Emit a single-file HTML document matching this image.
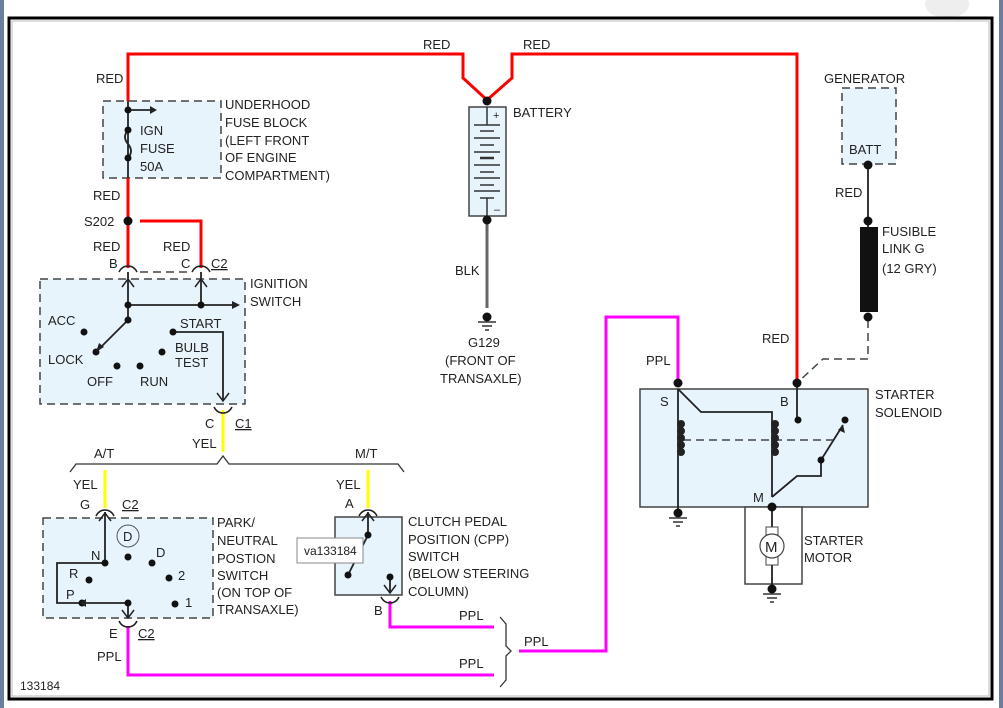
<!DOCTYPE html>
<html><head><meta charset="utf-8"><style>
html,body{margin:0;padding:0;background:#fff;width:1003px;height:708px;overflow:hidden}
svg text{font-family:"Liberation Sans",sans-serif;font-size:13px;fill:#222}
</style></head><body>
<svg width="1003" height="708" viewBox="0 0 1003 708" xmlns="http://www.w3.org/2000/svg">
<rect x="0" y="0" width="4" height="708" fill="#6a7f9a"/>
<rect x="999" y="0" width="4" height="708" fill="#6a7f9a"/>
<ellipse cx="947" cy="4" rx="22" ry="14" fill="#eee"/>
<rect x="9" y="18" width="983" height="681" fill="#fff" stroke="#000" stroke-width="3"/>
<rect x="12" y="21" width="977" height="675" fill="none" stroke="#bbb" stroke-width="1"/>

<g fill="#e8f4fc" stroke="#444" stroke-width="1.5" stroke-dasharray="8,5">
<rect x="103" y="101" width="118" height="77"/>
<rect x="40" y="279" width="205" height="125"/>
<rect x="43" y="518" width="170" height="100"/>
<rect x="842" y="88" width="54" height="76"/>
</g>
<g fill="#e8f4fc" stroke="#444" stroke-width="1.5">
<rect x="335" y="517" width="67" height="78"/>
<rect x="640" y="389" width="228" height="118"/>
<rect x="469" y="107" width="37" height="109"/>
</g>
<rect x="745" y="507" width="57" height="77" fill="#fff" stroke="#444" stroke-width="1.5"/>

<g fill="none" stroke="#f00" stroke-width="3">
<polyline points="128,101 128,54 463,54 463,78 487,100 512,78 512,54 797,54 797,383"/>
<line x1="128" y1="178" x2="128" y2="268"/>
<polyline points="140,221 201,221 201,268"/>
</g>
<g stroke="#ff0" stroke-width="3">
<line x1="223" y1="410" x2="223" y2="452"/>
<line x1="105" y1="470" x2="105" y2="508"/>
<line x1="368" y1="470" x2="368" y2="508"/>
</g>
<g fill="none" stroke="#f0f" stroke-width="3">
<polyline points="128,626 128,675 494,675"/>
<polyline points="390,601 390,627 494,627"/>
<polyline points="519,651 606,651 606,317 678,317 678,383"/>
</g>
<g fill="none" stroke="#222" stroke-width="1.8">
<line x1="128" y1="101" x2="128" y2="178"/>
<line x1="128" y1="110" x2="150" y2="110"/>
<line x1="128" y1="272" x2="128" y2="320"/>
<line x1="128" y1="305" x2="232" y2="305"/>
<line x1="201" y1="272" x2="201" y2="305"/>
<line x1="128" y1="320" x2="98" y2="350"/>
<polyline points="173,332 223,332 223,400"/>
<line x1="105" y1="512" x2="105" y2="563"/>
<polyline points="105,563 57,563 57,603 82,603"/>
<line x1="128" y1="603" x2="86" y2="603"/>
<line x1="128" y1="603" x2="128" y2="618"/>
<polyline points="368,512 368,535 348,575"/>
<line x1="390" y1="577" x2="390" y2="592"/>
<line x1="868" y1="165" x2="868" y2="228"/>
<line x1="678" y1="389" x2="678" y2="515"/>
<polyline points="678,389 701,412 772,412 772,497"/>
<line x1="797" y1="383" x2="797" y2="420"/>
<polyline points="772,497 797,476 821,476 821,460 843,425"/>
<line x1="772" y1="507" x2="772" y2="590"/>
<path d="M128,130 q-6,7 0,14 q6,7 0,14" />
</g>
<line x1="487" y1="216" x2="487" y2="308" stroke="#666" stroke-width="3"/>
<g stroke="#333" stroke-width="1.5">
<line x1="487" y1="107" x2="487" y2="125"/>
<line x1="474" y1="125" x2="500" y2="125"/><line x1="480" y1="131" x2="494" y2="131"/>
<line x1="474" y1="138" x2="500" y2="138"/><line x1="480" y1="145" x2="494" y2="145"/>
<line x1="474" y1="152" x2="500" y2="152"/><line x1="480" y1="158" x2="494" y2="158" stroke-width="2.5"/>
<line x1="474" y1="165" x2="500" y2="165"/><line x1="480" y1="172" x2="494" y2="172"/>
<line x1="474" y1="178" x2="500" y2="178"/><line x1="480" y1="185" x2="494" y2="185"/>
<line x1="474" y1="191" x2="500" y2="191"/><line x1="480" y1="198" x2="494" y2="198"/>
<line x1="487" y1="198" x2="487" y2="216"/>
</g>
<text x="493" y="119" style="font-size:11px">+</text>
<text x="494" y="213" style="font-size:11px">–</text>
<g fill="none" stroke="#444" stroke-width="1.5" stroke-dasharray="8,5">
<line x1="140" y1="272" x2="190" y2="272"/>
<polyline points="868,320 868,359 823,359 797,383"/>
<line x1="683" y1="440" x2="833" y2="440"/>
</g>
<g fill="#222">
<circle cx="681" cy="424" r="4"/><circle cx="681" cy="431" r="4"/><circle cx="681" cy="438" r="4"/><circle cx="681" cy="445" r="4"/><circle cx="681" cy="452" r="4"/>
<circle cx="775" cy="424" r="4"/><circle cx="775" cy="431" r="4"/><circle cx="775" cy="438" r="4"/><circle cx="775" cy="445" r="4"/><circle cx="775" cy="452" r="4"/>
</g>
<rect x="860" y="227" width="18" height="85" fill="#111"/>
<g fill="#111">
<circle cx="128" cy="110" r="3.5"/><circle cx="128" cy="130" r="3.5"/><circle cx="128" cy="158" r="3.5"/>
<circle cx="128" cy="221" r="4.5"/>
<circle cx="128" cy="305" r="3.5"/><circle cx="201" cy="305" r="3.5"/><circle cx="128" cy="320" r="3.5"/>
<circle cx="84" cy="332" r="3.5"/><circle cx="96" cy="352" r="3.5"/><circle cx="117" cy="366" r="3.5"/>
<circle cx="140" cy="366" r="3.5"/><circle cx="162" cy="352" r="3.5"/><circle cx="173" cy="332" r="3.5"/>
<circle cx="105" cy="563" r="3.5"/><circle cx="128" cy="557" r="3.5"/><circle cx="152" cy="563" r="3.5"/>
<circle cx="89" cy="580" r="3.5"/><circle cx="169" cy="578" r="3.5"/><circle cx="82" cy="603" r="3.5"/>
<circle cx="128" cy="603" r="3.5"/><circle cx="175" cy="604" r="3.5"/>
<circle cx="368" cy="535" r="3.5"/><circle cx="348" cy="575" r="3.5"/><circle cx="390" cy="577" r="3.5"/>
<circle cx="487" cy="101" r="4.5"/><circle cx="487" cy="220" r="4.5"/><circle cx="487" cy="317" r="4.5"/>
<circle cx="868" cy="165" r="4.5"/><circle cx="868" cy="221" r="4.5"/><circle cx="868" cy="317" r="4.5"/>
<circle cx="678" cy="383" r="4.5"/><circle cx="797" cy="383" r="4.5"/>
<circle cx="798" cy="420" r="3.5"/><circle cx="845" cy="420" r="3.5"/><circle cx="821" cy="460" r="3.5"/>
<circle cx="772" cy="507" r="4.5"/><circle cx="678" cy="513" r="4.5"/><circle cx="772" cy="589" r="4.5"/>
</g>
<g fill="#222">
<polygon points="150,106 157,110 150,114"/>
<polygon points="232,301 240,305 232,309"/>
<polygon points="96,352 99,343 104,347"/>
<polygon points="86,599 80,603 86,607" />
<polygon points="843,425 845,433 838,430" />
</g>
<g fill="none" stroke="#222" stroke-width="1.5">
<polyline points="122,287 128,279 134,287"/><polyline points="195,287 201,279 207,287"/>
<polyline points="217,393 223,401 229,393"/>
<polyline points="99,521 105,513 111,521"/><polyline points="122,610 128,618 134,610"/>
<polyline points="362,521 368,513 374,521"/><polyline points="384,585 390,593 396,585"/>
</g>
<g fill="none" stroke="#222" stroke-width="1.5">
<path d="M119,272 q3,-6 9,-6 q6,0 9,6"/><path d="M192,272 q3,-6 9,-6 q6,0 9,6"/>
<path d="M214,407 q3,6 9,6 q6,0 9,-6"/>
<path d="M96,516 q3,-6 9,-6 q6,0 9,6"/><path d="M359,516 q3,-6 9,-6 q6,0 9,6"/>
<path d="M119,621 q3,6 9,6 q6,0 9,-6"/><path d="M381,597 q3,6 9,6 q6,0 9,-6"/>
</g>
<g stroke="#333" stroke-width="1.5">
<line x1="478" y1="322" x2="496" y2="322"/><line x1="482" y1="326" x2="492" y2="326"/><line x1="485" y1="330" x2="489" y2="330"/>
<line x1="669" y1="518" x2="687" y2="518"/><line x1="673" y1="522" x2="683" y2="522"/><line x1="676" y1="526" x2="680" y2="526"/>
<line x1="763" y1="594" x2="781" y2="594"/><line x1="767" y1="598" x2="777" y2="598"/><line x1="770" y1="602" x2="774" y2="602"/>
</g>
<rect x="766" y="527" width="12" height="38" fill="#fff" stroke="#444"/>
<circle cx="772" cy="546" r="12" fill="#fff" stroke="#444" stroke-width="1.2"/>
<text x="765" y="552" style="font-size:15px">M</text>
<circle cx="128" cy="536" r="11" fill="none" stroke="#555"/>
<text x="123" y="541">D</text>
<path d="M70,472 L76,464 L217,464 L223,456 L229,464 L398,464 L404,472" fill="none" stroke="#333" stroke-width="1.3"/>
<path d="M500,617 L506,624 L506,646 L511,651 L506,656 L506,680 L500,687" fill="none" stroke="#333" stroke-width="1.3"/>
<rect x="297" y="538" width="66" height="25" fill="#fff" stroke="#888"/>
<text x="304" y="555" style="font-size:12px">va133184</text>

<text x="96" y="83">RED</text><text x="423" y="49">RED</text><text x="523" y="49">RED</text>
<text x="225" y="109">UNDERHOOD</text><text x="225" y="127">FUSE BLOCK</text><text x="225" y="145">(LEFT FRONT</text><text x="225" y="162">OF ENGINE</text><text x="225" y="180">COMPARTMENT)</text>
<text x="140" y="135">IGN</text><text x="140" y="153">FUSE</text><text x="140" y="171">50A</text>
<text x="93" y="200">RED</text><text x="84" y="226">S202</text>
<text x="93" y="251">RED</text><text x="163" y="251">RED</text>
<text x="109" y="268">B</text><text x="181" y="268">C</text><text x="211" y="268" text-decoration="underline">C2</text>
<text x="250" y="288">IGNITION</text><text x="250" y="306">SWITCH</text>
<text x="48" y="325">ACC</text><text x="180" y="328">START</text>
<text x="48" y="364">LOCK</text><text x="175" y="352">BULB</text><text x="175" y="367">TEST</text>
<text x="87" y="386">OFF</text><text x="140" y="386">RUN</text>
<text x="205" y="428">C</text><text x="235" y="428" text-decoration="underline">C1</text>
<text x="192" y="448">YEL</text>
<text x="94" y="458">A/T</text><text x="355" y="458">M/T</text>
<text x="73" y="489">YEL</text><text x="336" y="489">YEL</text>
<text x="80" y="509">G</text><text x="122" y="509" text-decoration="underline">C2</text>
<text x="345" y="508">A</text>
<text x="217" y="527">PARK/</text><text x="217" y="545">NEUTRAL</text><text x="217" y="563">POSTION</text><text x="217" y="580">SWITCH</text><text x="217" y="597">(ON TOP OF</text><text x="217" y="614">TRANSAXLE)</text>
<text x="91" y="560">N</text><text x="156" y="557">D</text><text x="69" y="578">R</text><text x="178" y="580">2</text><text x="66" y="599">P</text><text x="185" y="607">1</text>
<text x="408" y="526">CLUTCH PEDAL</text><text x="408" y="544">POSITION (CPP)</text><text x="408" y="561">SWITCH</text><text x="408" y="578">(BELOW STEERING</text><text x="408" y="596">COLUMN)</text>
<text x="374" y="615">B</text>
<text x="109" y="638">E</text><text x="138" y="638" text-decoration="underline">C2</text>
<text x="97" y="661">PPL</text>
<text x="459" y="620">PPL</text><text x="459" y="668">PPL</text><text x="524" y="646">PPL</text>
<text x="20" y="690" style="font-size:12px">133184</text>
<text x="513" y="117">BATTERY</text>
<text x="455" y="275">BLK</text>
<text x="468" y="347">G129</text><text x="445" y="365">(FRONT OF</text><text x="440" y="383">TRANSAXLE)</text>
<text x="824" y="83">GENERATOR</text><text x="849" y="154">BATT</text>
<text x="835" y="197">RED</text>
<text x="882" y="236">FUSIBLE</text><text x="882" y="253">LINK G</text><text x="882" y="273">(12 GRY)</text>
<text x="762" y="343">RED</text><text x="646" y="365">PPL</text>
<text x="660" y="406">S</text><text x="780" y="406">B</text>
<text x="875" y="399">STARTER</text><text x="875" y="417">SOLENOID</text>
<text x="753" y="502">M</text>
<text x="804" y="545">STARTER</text><text x="804" y="562">MOTOR</text>
</svg>
</body></html>
